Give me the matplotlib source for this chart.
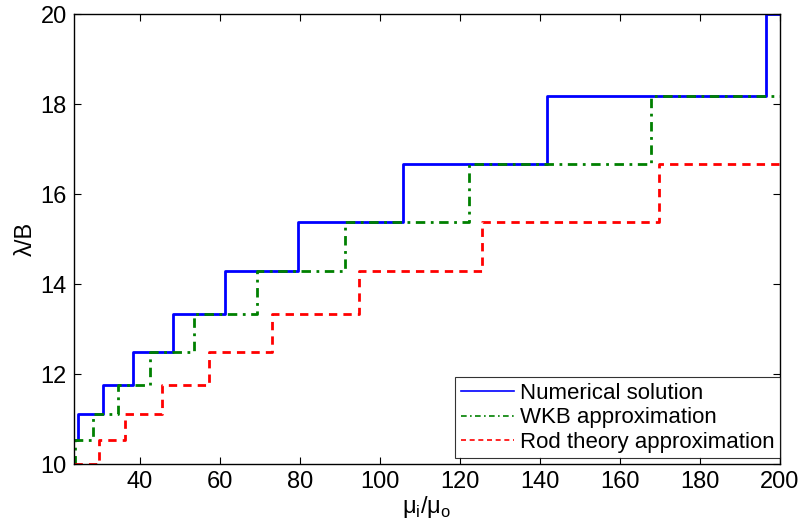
import matplotlib
matplotlib.use("Agg")
import matplotlib.pyplot as plt

# =========================
# DATA
# =========================

X_MIN, X_MAX = 23.5, 200

# Numerical solution
num_x = [23.5, 24.6, 30.8, 38.3, 48.2, 61.3, 79.6, 105.9, 141.8, 196.6, 200]
num_y = [10.53, 11.11, 11.76, 12.5, 13.33, 14.29, 15.38, 16.67, 18.18, 20.0, 20.0]

# WKB approximation
wkb_x = [23.5, 23.9, 28.3, 34.6, 42.6, 53.6, 69.4, 91.2, 122.2, 167.8, 200]
wkb_y = [10.0, 10.53, 11.11, 11.76, 12.5, 13.33, 14.29, 15.38, 16.67, 18.18, 18.18]

# Rod theory approximation
rod_x = [23.5, 29.8, 36.4, 45.6, 57.4, 73.0, 94.9, 125.6, 169.8, 200]
rod_y = [10.0, 10.53, 11.11, 11.76, 12.5, 13.33, 14.29, 15.38, 16.67, 16.67]

x_ticks = [40, 60, 80, 100, 120, 140, 160, 180, 200]
y_ticks = [10, 12, 14, 16, 18, 20]

# =========================
# PLOT
# =========================

plt.rcParams["font.family"] = ["Liberation Sans", "DejaVu Sans"]
plt.rcParams["font.size"] = 17

fig = plt.figure(figsize=(8.03, 5.28), dpi=100)
ax = fig.add_axes([0.092, 0.121, 0.879, 0.852])

ax.plot(num_x, num_y, drawstyle="steps-post", color="#0000ff", lw=2.0,
        label="Numerical solution")
ax.plot(wkb_x, wkb_y, drawstyle="steps-post", color="#008000", lw=2.0,
        dashes=(3.4, 2.0, 1.0, 2.0), label="WKB approximation")
ax.plot(rod_x, rod_y, drawstyle="steps-post", color="#ff0000", lw=2.0,
        dashes=(3.0, 2.2), label="Rod theory approximation")

ax.set_xlim(X_MIN, X_MAX)
ax.set_ylim(10, 20)
ax.set_xticks(x_ticks)
ax.set_yticks(y_ticks)
ax.tick_params(direction="in", length=5, width=0.8, top=True, right=True,
               labelsize=17, pad=5)
for s in ax.spines.values():
    s.set_linewidth(1.0)

ax.set_xlabel("μ$_\\mathregular{i}$/μ$_\\mathregular{o}$", fontsize=17, labelpad=1)
ax.set_ylabel("λ/B", fontsize=17, labelpad=3)

leg = ax.legend(loc="lower right", bbox_to_anchor=(1.0, 0.013), fontsize=16,
                frameon=True, fancybox=False, edgecolor="black",
                borderpad=0.25, labelspacing=0.15, handlelength=2.4,
                handletextpad=0.25, borderaxespad=0.0)
leg.get_frame().set_linewidth(0.8)
for h in leg.get_lines():
    h.set_linewidth(1.2)

fig.savefig("out.png", dpi=100)
